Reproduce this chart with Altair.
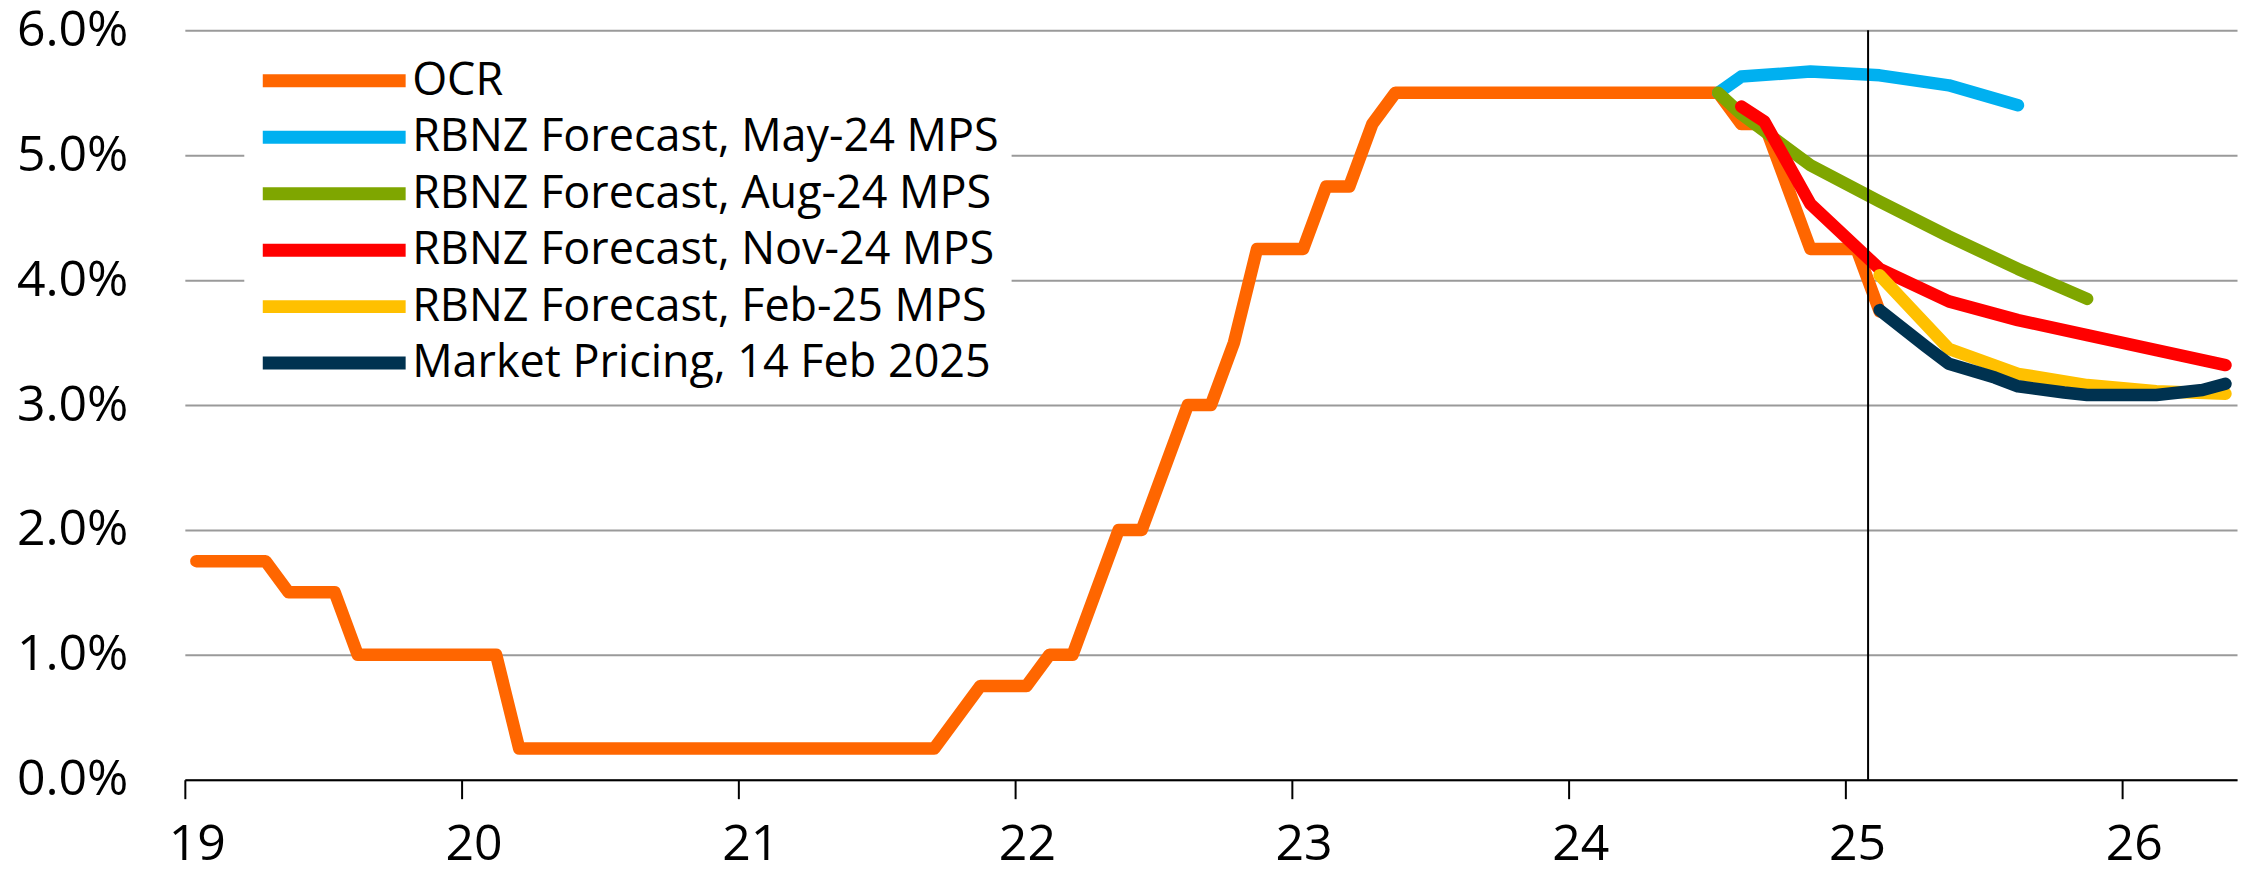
import altair as alt
import pandas as pd

# ---------------- data ----------------
series_names = [
    "OCR",
    "RBNZ Forecast, May-24 MPS",
    "RBNZ Forecast, Aug-24 MPS",
    "RBNZ Forecast, Nov-24 MPS",
    "RBNZ Forecast, Feb-25 MPS",
    "Market Pricing, 14 Feb 2025",
]
series_colors = ["#FF6600", "#00B0F0", "#7FA600", "#FF0000", "#FFC000", "#003250"]

# OCR, monthly from Jan 2019 to Feb 2025
ocr_start_year = 2019
ocr_values = [
    1.75, 1.75, 1.75, 1.75, 1.50, 1.50, 1.50, 1.00, 1.00, 1.00, 1.00, 1.00,   # 2019
    1.00, 1.00, 0.25, 0.25, 0.25, 0.25, 0.25, 0.25, 0.25, 0.25, 0.25, 0.25,   # 2020
    0.25, 0.25, 0.25, 0.25, 0.25, 0.25, 0.25, 0.25, 0.25, 0.50, 0.75, 0.75,   # 2021
    0.75, 1.00, 1.00, 1.50, 2.00, 2.00, 2.50, 3.00, 3.00, 3.50, 4.25, 4.25,   # 2022
    4.25, 4.75, 4.75, 5.25, 5.50, 5.50, 5.50, 5.50, 5.50, 5.50, 5.50, 5.50,   # 2023
    5.50, 5.50, 5.50, 5.50, 5.50, 5.50, 5.50, 5.25, 5.25, 4.75, 4.25, 4.25,   # 2024
    4.25, 3.75,                                                               # 2025
]

may24_months = ["2024-07", "2024-08", "2024-11", "2025-02", "2025-05", "2025-08"]
may24_values = [5.50, 5.63, 5.67, 5.64, 5.56, 5.40]

aug24_months = ["2024-07", "2024-08", "2024-11", "2025-02", "2025-05", "2025-08", "2025-11"]
aug24_values = [5.50, 5.33, 4.92, 4.63, 4.35, 4.09, 3.85]

nov24_months = ["2024-08", "2024-09", "2024-11", "2025-02", "2025-05", "2025-08",
                "2025-11", "2026-02", "2026-05"]
nov24_values = [5.39, 5.27, 4.61, 4.09, 3.83, 3.68, 3.56, 3.44, 3.32]

feb25_months = ["2025-02", "2025-05", "2025-08", "2025-11", "2026-02", "2026-05"]
feb25_values = [4.04, 3.45, 3.25, 3.16, 3.11, 3.09]

market_months = ["2025-02", "2025-04", "2025-05", "2025-07", "2025-08", "2025-10",
                 "2025-11", "2026-02", "2026-04", "2026-05"]
market_values = [3.76, 3.47, 3.33, 3.22, 3.15, 3.10, 3.08, 3.08, 3.12, 3.17]

latest_mps_month = "2025-02"   # vertical marker at start of this month

x_ticks = [19, 20, 21, 22, 23, 24, 25, 26]
y_ticks = [0, 1, 2, 3, 4, 5, 6]


# ---------------- helpers ----------------
def mid_month(m):
    y, mo = (int(p) for p in m.split("-"))
    return (y - 2000) + (mo - 0.5) / 12.0


def start_month(m):
    y, mo = (int(p) for p in m.split("-"))
    return (y - 2000) + (mo - 1) / 12.0


ocr_months = []
for i in range(len(ocr_values)):
    yy = ocr_start_year + i // 12
    mm = i % 12 + 1
    ocr_months.append(f"{yy}-{mm:02d}")

all_series = [
    (series_names[0], ocr_months, ocr_values),
    (series_names[1], may24_months, may24_values),
    (series_names[2], aug24_months, aug24_values),
    (series_names[3], nov24_months, nov24_values),
    (series_names[4], feb25_months, feb25_values),
    (series_names[5], market_months, market_values),
]

rows = []
for name, months, vals in all_series:
    for m, v in zip(months, vals):
        rows.append({"series": name, "t": mid_month(m), "rate": v})
df = pd.DataFrame(rows)

rule_df = pd.DataFrame({"t": [start_month(latest_mps_month)]})

FONT = "Open Sans"

x_enc = alt.X(
    "t:Q",
    scale=alt.Scale(domain=[19, 26 + 5 / 12], nice=False, zero=False),
    axis=alt.Axis(
        values=x_ticks, format="d", title=None, grid=False,
        domain=True, domainColor="black", domainWidth=2,
        ticks=True, tickColor="black", tickWidth=2, tickSize=19,
        labelPadding=21, labelOffset=12, labelFlush=False,
        labelOverlap=False, labelBound=False,
        labelFont=FONT, labelFontSize=50, labelColor="black",
    ),
)

y_enc = alt.Y(
    "rate:Q",
    scale=alt.Scale(domain=[0, 6], nice=False),
    axis=alt.Axis(
        values=y_ticks, title=None,
        labelExpr="format(datum.value, '.1f') + '%'",
        domain=False, ticks=False, tickSize=0, labelPadding=57,
        grid=True, gridColor="#9a9a9a", gridWidth=2,
        labelFont=FONT, labelFontSize=50, labelColor="black",
        labelOverlap=False,
    ),
)

lines = alt.Chart(df).mark_line(
    strokeWidth=12.5, strokeCap="round", strokeJoin="round"
).encode(
    x=x_enc,
    y=y_enc,
    color=alt.Color(
        "series:N",
        scale=alt.Scale(domain=series_names, range=series_colors),
        legend=alt.Legend(
            title=None, orient="none", legendX=59.5, legendY=16,
            direction="vertical", symbolType="stroke",
            symbolSize=20449, symbolStrokeWidth=13, symbolOpacity=1,
            labelFont=FONT, labelFontSize=45, labelColor="black",
            labelLimit=1500, labelOffset=0, rowPadding=10.5,
            clipHeight=45, padding=12, fillColor="white", offset=0,
        ),
    ),
)

rule = alt.Chart(rule_df).mark_rule(color="black", strokeWidth=2).encode(x="t:Q")

chart = (
    alt.layer(lines, rule)
    .properties(
        width=2054,
        height=750,
        padding={"left": 177, "top": 22, "right": 10, "bottom": 97},
        autosize=alt.AutoSizeParams(type="none"),
    )
    .configure(font=FONT)
    .configure_view(stroke=None)
)

chart.save("out.html", embed_options={"renderer": "svg", "actions": False})
